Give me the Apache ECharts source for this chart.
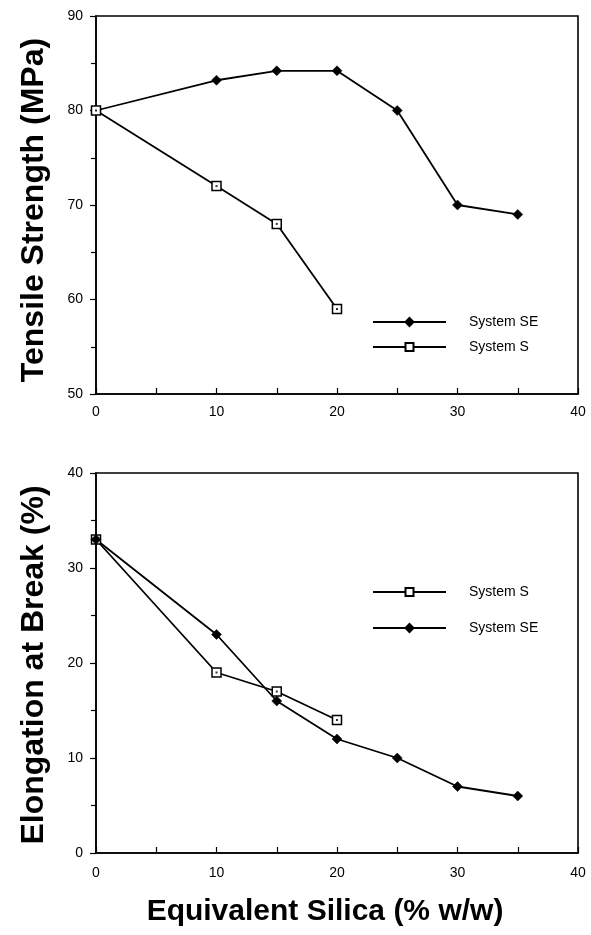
<!DOCTYPE html>
<html>
<head>
<meta charset="utf-8">
<script src="https://cdn.jsdelivr.net/npm/echarts@6/dist/echarts.min.js"></script>
<style>html,body{margin:0;padding:0;background:#fff;}#c{width:591px;height:935px;}</style>
</head>
<body>
<div id="c"></div>
<script>
// ---- data ----
var silicaSE = [0, 10, 15, 20, 25, 30, 35];
var silicaS = [0, 10, 15, 20];
var tensileSE = [80, 83.2, 84.2, 84.2, 80, 70, 69];
var tensileS = [80, 72, 68, 59];
var elongS = [33, 19, 17, 14];
var elongSE = [33, 23, 16, 12, 10, 7, 6];
var xTicks = [0, 10, 20, 30, 40];
var tensileTicks = [50, 60, 70, 80, 90];
var elongTicks = [0, 10, 20, 30, 40];

function pairs(xs, ys) { return xs.map(function (x, i) { return [x, ys[i]]; }); }

var FONT = 'Liberation Sans';
var black = '#000';

function xAxisCfg(gridIndex, margin, withName) {
  var a = {
    type: 'value', gridIndex: gridIndex, min: xTicks[0], max: xTicks[xTicks.length - 1], interval: 10,
    axisLine: { show: true, lineStyle: { color: black, width: 1.6 } },
    axisTick: { show: true, inside: true, length: 6, lineStyle: { color: black, width: 1.2 } },
    minorTick: { show: true, splitNumber: 2, length: 6, lineStyle: { color: black, width: 1.2 } },
    splitLine: { show: false },
    axisLabel: { color: black, fontFamily: FONT, fontSize: 14, margin: margin }
  };
  if (withName) {
    a.name = 'Equivalent Silica (% w/w)';
    a.nameLocation = 'middle';
    a.nameGap = 44;
    a.nameTextStyle = { color: black, fontFamily: FONT, fontSize: 30, fontWeight: 'bold', padding: [0, 24, 0, 0] };
  }
  return a;
}
function yAxisCfg(gridIndex, ticks, name, pad) {
  return {
    type: 'value', gridIndex: gridIndex, min: ticks[0], max: ticks[ticks.length - 1], interval: 10,
    axisLine: { show: true, lineStyle: { color: black, width: 1.6 } },
    axisTick: { show: true, inside: false, length: 6, lineStyle: { color: black, width: 1.2 } },
    minorTick: { show: true, splitNumber: 2, length: 5, lineStyle: { color: black, width: 1.2 } },
    splitLine: { show: false },
    axisLabel: { color: black, fontFamily: FONT, fontSize: 14, margin: 13 },
    name: name, nameLocation: 'middle', nameGap: 46,
    nameTextStyle: { color: black, fontFamily: FONT, fontSize: 32, fontWeight: 'bold', padding: pad }
  };
}
function lineSeries(name, xi, data, marker) {
  var s = {
    name: name, type: 'line', xAxisIndex: xi, yAxisIndex: xi, data: data,
    lineStyle: { color: black, width: 1.8 }, z: 3,
    animation: false
  };
  if (marker === 'diamond') {
    s.symbol = 'diamond'; s.symbolSize = 10;
    s.itemStyle = { color: black, borderColor: black, borderWidth: 0.5 };
  } else {
    s.symbol = 'rect'; s.symbolSize = 9;
    s.itemStyle = { color: '#fff', borderColor: black, borderWidth: 1.5 };
  }
  return s;
}
function dotSeries(xi, data) {
  return { type: 'scatter', xAxisIndex: xi, yAxisIndex: xi, data: data, symbol: 'rect', symbolSize: 2,
    itemStyle: { color: black }, silent: true, z: 5, animation: false };
}
function legendCfg(data, top, gap) {
  return {
    data: data, orient: 'vertical', left: 367, top: top, itemWidth: 73, itemHeight: 10, itemGap: gap,
    textStyle: { color: black, fontFamily: FONT, fontSize: 14, lineHeight: 14, padding: [0, 0, 0, 18] },
    selectedMode: false
  };
}

var chart = echarts.init(document.getElementById('c'), null, { renderer: 'canvas' });
chart.setOption({
  backgroundColor: '#fff',
  animation: false,
  grid: [
    { left: 96, top: 16, width: 482, height: 378, show: true, borderColor: black, borderWidth: 1.6, backgroundColor: 'transparent' },
    { left: 96, top: 473, width: 482, height: 380, show: true, borderColor: black, borderWidth: 1.6, backgroundColor: 'transparent' }
  ],
  xAxis: [xAxisCfg(0, 11, false), xAxisCfg(1, 13, true)],
  yAxis: [
    yAxisCfg(0, tensileTicks, 'Tensile Strength (MPa)', [0, 10, 0, 0]),
    yAxisCfg(1, elongTicks, 'Elongation at Break (%)', [0, 4, 0, 0])
  ],
  legend: [
    legendCfg(['System SE', 'System S'], 310, 11),
    legendCfg(['System S', 'System SE'], 580, 22)
  ],
  series: [
    lineSeries('System SE', 0, pairs(silicaSE, tensileSE), 'diamond'),
    lineSeries('System S', 0, pairs(silicaS, tensileS), 'rect'),
    dotSeries(0, pairs(silicaS, tensileS)),
    lineSeries('System S', 1, pairs(silicaS, elongS), 'rect'),
    lineSeries('System SE', 1, pairs(silicaSE, elongSE), 'diamond'),
    dotSeries(1, pairs(silicaS, elongS))
  ]
});
</script>
</body>
</html>
